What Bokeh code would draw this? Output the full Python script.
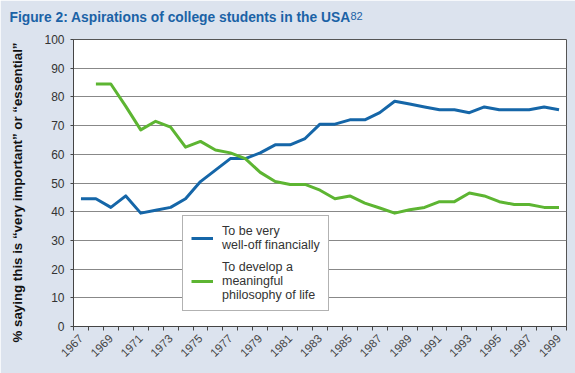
import math
from bokeh.plotting import figure
from bokeh.models import (Range1d, FixedTicker, Label, Legend, LegendItem)
from bokeh.embed import file_html
from bokeh.resources import INLINE

years = [1967, 1968, 1969, 1970, 1971, 1972, 1973, 1974, 1975, 1976, 1977,
         1978, 1979, 1980, 1981, 1982, 1983, 1984, 1985, 1986, 1987, 1988,
         1989, 1990, 1991, 1992, 1993, 1994, 1995, 1996, 1997, 1998, 1999]

well_off = [44.5, 44.5, 41.5, 45.5, 39.5, 40.5, 41.5, 44.5, 50.5, 54.5, 58.5,
            58.5, 60.5, 63.3, 63.3, 65.5, 70.5, 70.5, 72.0, 72.0, 74.5, 78.5,
            77.5, 76.5, 75.5, 75.5, 74.5, 76.5, 75.5, 75.5, 75.5, 76.5, 75.5]

phil_years = years[1:]
philosophy = [84.5, 84.5, 76.7, 68.5, 71.5, 69.5, 62.5, 64.5, 61.5, 60.5,
              58.5, 53.7, 50.5, 49.5, 49.5, 47.5, 44.5, 45.5, 43.0, 41.3,
              39.5, 40.7, 41.5, 43.5, 43.5, 46.5, 45.5, 43.5, 42.5, 42.5,
              41.5, 41.5]

label_years = [1967, 1969, 1971, 1973, 1975, 1977, 1979, 1981, 1983, 1985,
               1987, 1989, 1991, 1993, 1995, 1997, 1999]
y_ticks = [0, 10, 20, 30, 40, 50, 60, 70, 80, 90, 100]

series_names = ["To be very\nwell-off financially",
                "To develop a\nmeaningful\nphilosophy of life"]

BG = "#dce3ee"
BLUE = "#1566a8"
GREEN = "#5db532"
TITLE_BLUE = "#1b62a6"
FONT = "Liberation Sans"

p = figure(width=575, height=373, output_backend="svg", toolbar_location=None,
           x_range=Range1d(years[0] - 0.5, years[-1] + 0.5),
           y_range=Range1d(0, 100),
           min_border_left=73, min_border_right=9, min_border_top=39,
           min_border_bottom=47)
p.background_fill_color = "white"
p.border_fill_color = BG
p.outline_line_color = "#555555"
p.outline_line_width = 1

# axes
p.xaxis.ticker = FixedTicker(ticks=label_years,
                             minor_ticks=[y - 0.5 for y in years] + [years[-1] + 0.5])
p.xaxis.major_label_overrides = {y: str(y) for y in label_years}
p.xaxis.major_tick_out = 0
p.xaxis.major_tick_in = 0
p.xaxis.minor_tick_out = 4
p.xaxis.minor_tick_in = 0
p.xaxis.minor_tick_line_color = "#444444"
p.xaxis.axis_line_color = "#444444"
p.xaxis.major_label_orientation = math.pi / 4
p.xaxis.major_label_text_font = FONT
p.xaxis.major_label_text_font_size = "11.5px"
p.xaxis.major_label_text_color = "#444444"
p.xaxis.major_label_standoff = 6

p.yaxis.ticker = FixedTicker(ticks=y_ticks)
p.yaxis.minor_tick_line_color = None
p.yaxis.major_tick_out = 3
p.yaxis.major_tick_in = 0
p.yaxis.major_tick_line_color = "#444444"
p.yaxis.axis_line_color = "#444444"
p.yaxis.major_label_text_font = FONT
p.yaxis.major_label_text_font_size = "12px"
p.yaxis.major_label_text_color = "#333333"
p.yaxis.major_label_standoff = 6

p.xgrid.grid_line_color = None
p.ygrid.grid_line_color = "#888888"
p.ygrid.grid_line_width = 1

r1 = p.line(years, well_off, line_color=BLUE, line_width=3, line_join="round")
r2 = p.line(phil_years, philosophy, line_color=GREEN, line_width=3, line_join="round")

legend = Legend(items=[LegendItem(label=series_names[0], renderers=[r1]),
                       LegendItem(label=series_names[1], renderers=[r2])],
                location=(109, 15), orientation="vertical")
legend.label_text_font = FONT
legend.label_text_font_size = "12.5px"
legend.label_text_color = "#333333"
legend.label_text_line_height = 1.2
legend.glyph_width = 22
legend.border_line_color = "#666666"
legend.background_fill_color = "white"
legend.background_fill_alpha = 1
legend.padding = 8
legend.spacing = 8
legend.margin = 0
legend.label_standoff = 9
p.add_layout(legend, "center")

# title, superscript and y-axis label placed in side panels (canvas units)
title = Label(x=9, y=17, x_units="canvas", y_units="canvas",
              text="Figure 2: Aspirations of college students in the USA",
              text_font=FONT, text_font_size="13.8px", text_font_style="bold",
              text_color=TITLE_BLUE, text_baseline="alphabetic", text_align="left")
p.add_layout(title, "above")
sup = Label(x=350, y=15, x_units="canvas", y_units="canvas", text="82",
            text_font=FONT, text_font_size="11px", text_color=TITLE_BLUE,
            text_baseline="alphabetic", text_align="left")
p.add_layout(sup, "above")
ylab = Label(x=17, y=192, x_units="canvas", y_units="canvas", angle=math.pi / 2,
             text="% saying this is \u201cvery important\u201d or \u201cessential\u201d",
             text_font=FONT, text_font_size="13.3px", text_font_style="bold",
             text_color="#111111", text_baseline="middle", text_align="center")
p.add_layout(ylab, "left")

open("out.html", "w").write(file_html(p, INLINE))
